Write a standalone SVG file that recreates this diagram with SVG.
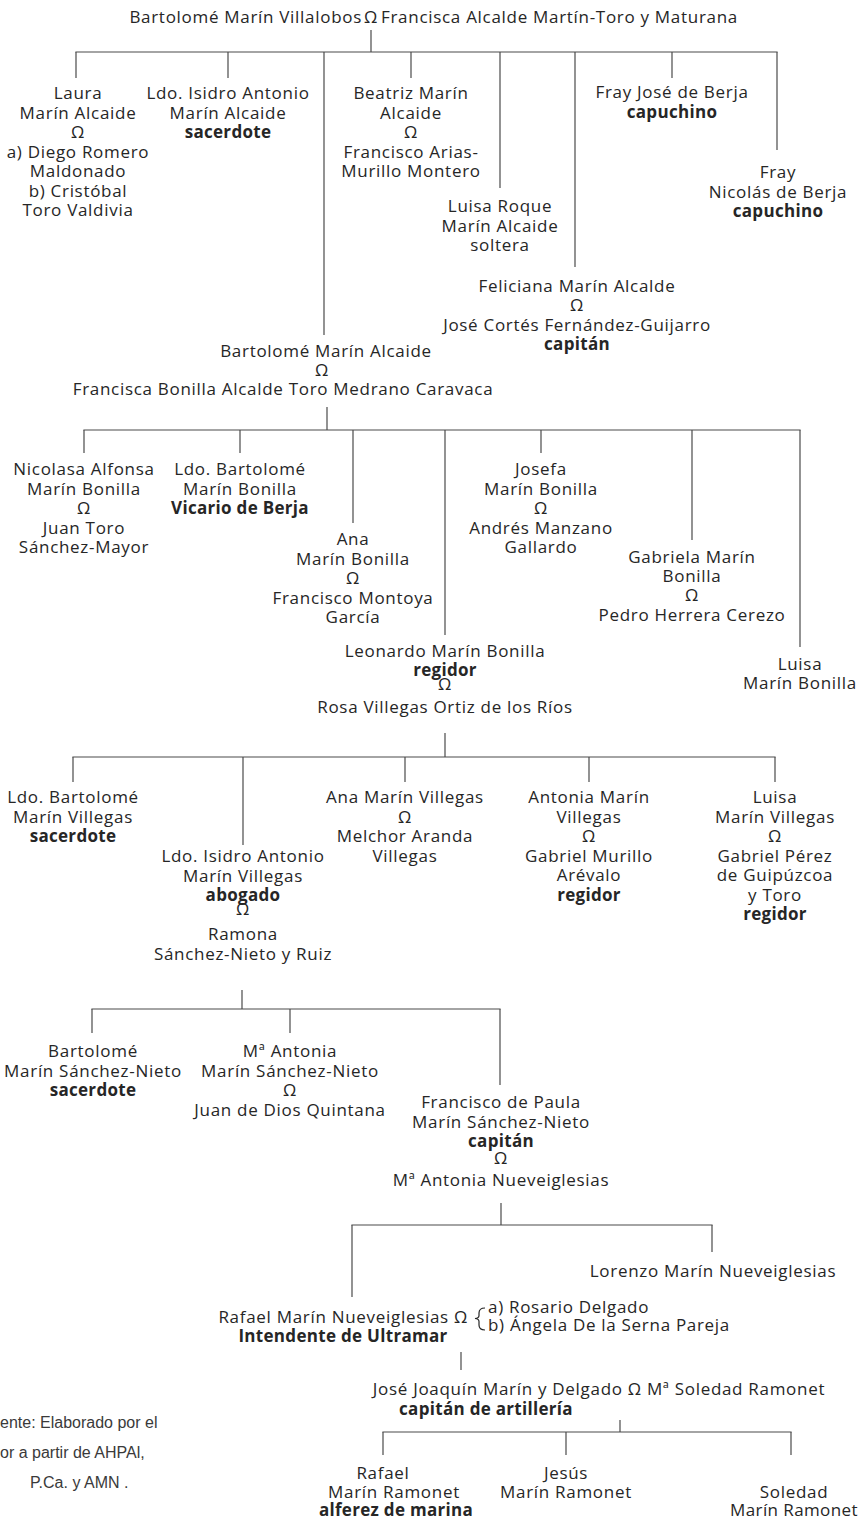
<svg xmlns="http://www.w3.org/2000/svg" width="861" height="1520" viewBox="0 0 861 1520">
<style>
text{font-family:"Open Sans","Liberation Sans",sans-serif;font-size:17px;letter-spacing:0.7px;fill:#262626;text-anchor:middle}
.b{font-weight:700;letter-spacing:0.3px}
.s{text-anchor:start}
.e{text-anchor:end}
.src{font-family:"Liberation Sans","Noto Sans",sans-serif;font-size:16px;letter-spacing:0;fill:#3a3a3a;text-anchor:start}
.ln line{stroke:#4a4a4a;stroke-width:1.2;fill:none}
</style>
<rect width="861" height="1520" fill="#fff"/>
<g class="ln" id="connectors">
<line x1="371" y1="30" x2="371" y2="52"/>
<line x1="75.4" y1="52" x2="777.6" y2="52"/>
<line x1="76" y1="52" x2="76" y2="78"/>
<line x1="228" y1="52" x2="228" y2="78"/>
<line x1="324" y1="52" x2="324" y2="335"/>
<line x1="411" y1="52" x2="411" y2="78"/>
<line x1="500" y1="52" x2="500" y2="188"/>
<line x1="575" y1="52" x2="575" y2="267"/>
<line x1="672" y1="52" x2="672" y2="78"/>
<line x1="777" y1="52" x2="777" y2="150"/>
<line x1="327" y1="407" x2="327" y2="430"/>
<line x1="83.4" y1="430" x2="800.6" y2="430"/>
<line x1="84" y1="430" x2="84" y2="453"/>
<line x1="240" y1="430" x2="240" y2="453"/>
<line x1="353" y1="430" x2="353" y2="523"/>
<line x1="445" y1="430" x2="445" y2="635"/>
<line x1="541" y1="430" x2="541" y2="453"/>
<line x1="692" y1="430" x2="692" y2="540"/>
<line x1="800" y1="430" x2="800" y2="647"/>
<line x1="445" y1="733" x2="445" y2="757"/>
<line x1="72.4" y1="757" x2="775.6" y2="757"/>
<line x1="73" y1="757" x2="73" y2="782"/>
<line x1="243" y1="757" x2="243" y2="845"/>
<line x1="405" y1="757" x2="405" y2="782"/>
<line x1="589" y1="757" x2="589" y2="782"/>
<line x1="775" y1="757" x2="775" y2="782"/>
<line x1="242" y1="990" x2="242" y2="1009"/>
<line x1="91.4" y1="1009" x2="500.6" y2="1009"/>
<line x1="92" y1="1009" x2="92" y2="1033"/>
<line x1="290" y1="1009" x2="290" y2="1033"/>
<line x1="500" y1="1009" x2="500" y2="1085"/>
<line x1="501" y1="1203" x2="501" y2="1225"/>
<line x1="351.4" y1="1225" x2="712.6" y2="1225"/>
<line x1="352" y1="1225" x2="352" y2="1297"/>
<line x1="712" y1="1225" x2="712" y2="1252"/>
<line x1="461" y1="1352" x2="461" y2="1370"/>
<line x1="620" y1="1420" x2="620" y2="1432"/>
<line x1="382.4" y1="1432" x2="791.6" y2="1432"/>
<line x1="383" y1="1432" x2="383" y2="1455"/>
<line x1="566" y1="1432" x2="566" y2="1455"/>
<line x1="791" y1="1432" x2="791" y2="1455"/>
</g>
<g id="n-root">
<text class="e" x="362" y="23">Bartolomé Marín Villalobos</text>
<text x="371" y="23">Ω</text>
<text class="s" x="381" y="23">Francisca Alcalde Martín-Toro y Maturana</text>
</g>
<g id="n-laura">
<text x="78" y="99">Laura</text>
<text x="78" y="118.5">Marín Alcaide</text>
<text x="78" y="138">Ω</text>
<text x="78" y="157.5">a) Diego Romero</text>
<text x="78" y="177">Maldonado</text>
<text x="78" y="196.5">b) Cristóbal</text>
<text x="78" y="216">Toro Valdivia</text>
</g>
<g id="n-isidro">
<text x="228" y="99">Ldo. Isidro Antonio</text>
<text x="228" y="118.5">Marín Alcaide</text>
<text class="b" x="228" y="138">sacerdote</text>
</g>
<g id="n-beatriz">
<text x="411" y="99">Beatriz Marín</text>
<text x="411" y="118.5">Alcaide</text>
<text x="411" y="138">Ω</text>
<text x="411" y="157.5">Francisco Arias-</text>
<text x="411" y="177">Murillo Montero</text>
</g>
<g id="n-luisa-roque">
<text x="500" y="212">Luisa Roque</text>
<text x="500" y="231.5">Marín Alcaide</text>
<text x="500" y="251">soltera</text>
</g>
<g id="n-feliciana">
<text x="577" y="292">Feliciana Marín Alcalde</text>
<text x="577" y="311">Ω</text>
<text x="577" y="330.5">José Cortés Fernández-Guijarro</text>
<text class="b" x="577" y="350">capitán</text>
</g>
<g id="n-fray-jose">
<text x="672" y="98">Fray José de Berja</text>
<text class="b" x="672" y="118">capuchino</text>
</g>
<g id="n-fray-nicolas">
<text x="778" y="178">Fray</text>
<text x="778" y="198">Nicolás de Berja</text>
<text class="b" x="778" y="217">capuchino</text>
</g>
<g id="n-bartolome-alcaide">
<text x="326" y="357">Bartolomé Marín Alcaide</text>
<text x="322" y="376">Ω</text>
<text x="283" y="395">Francisca Bonilla Alcalde Toro Medrano Caravaca</text>
</g>
<g id="n-nicolasa">
<text x="84" y="475">Nicolasa Alfonsa</text>
<text x="84" y="494.5">Marín Bonilla</text>
<text x="84" y="514">Ω</text>
<text x="84" y="533.5">Juan Toro</text>
<text x="84" y="553">Sánchez-Mayor</text>
</g>
<g id="n-bartolome-bonilla">
<text x="240" y="475">Ldo. Bartolomé</text>
<text x="240" y="494.5">Marín Bonilla</text>
<text class="b" x="240" y="514">Vicario de Berja</text>
</g>
<g id="n-ana-bonilla">
<text x="353" y="545">Ana</text>
<text x="353" y="564.5">Marín Bonilla</text>
<text x="353" y="584">Ω</text>
<text x="353" y="603.5">Francisco Montoya</text>
<text x="353" y="623">García</text>
</g>
<g id="n-josefa">
<text x="541" y="475">Josefa</text>
<text x="541" y="494.5">Marín Bonilla</text>
<text x="541" y="514">Ω</text>
<text x="541" y="533.5">Andrés Manzano</text>
<text x="541" y="553">Gallardo</text>
</g>
<g id="n-gabriela">
<text x="692" y="563">Gabriela Marín</text>
<text x="692" y="582">Bonilla</text>
<text x="692" y="601">Ω</text>
<text x="692" y="620.5">Pedro Herrera Cerezo</text>
</g>
<g id="n-luisa-bonilla">
<text x="800" y="670">Luisa</text>
<text x="800" y="688.5">Marín Bonilla</text>
</g>
<g id="n-leonardo">
<text x="445" y="657">Leonardo Marín Bonilla</text>
<text class="b" x="445" y="676">regidor</text>
<text x="445" y="690">Ω</text>
<text x="445" y="713">Rosa Villegas Ortiz de los Ríos</text>
</g>
<g id="n-bartolome-villegas">
<text x="73" y="803">Ldo. Bartolomé</text>
<text x="73" y="822.5">Marín Villegas</text>
<text class="b" x="73" y="842">sacerdote</text>
</g>
<g id="n-isidro-villegas">
<text x="243" y="862">Ldo. Isidro Antonio</text>
<text x="243" y="881.5">Marín Villegas</text>
<text class="b" x="243" y="901">abogado</text>
<text x="243" y="915">Ω</text>
<text x="243" y="940">Ramona</text>
<text x="243" y="959.5">Sánchez-Nieto y Ruiz</text>
</g>
<g id="n-ana-villegas">
<text x="405" y="803">Ana Marín Villegas</text>
<text x="405" y="822.5">Ω</text>
<text x="405" y="842">Melchor Aranda</text>
<text x="405" y="861.5">Villegas</text>
</g>
<g id="n-antonia-villegas">
<text x="589" y="803">Antonia Marín</text>
<text x="589" y="822.5">Villegas</text>
<text x="589" y="842">Ω</text>
<text x="589" y="861.5">Gabriel Murillo</text>
<text x="589" y="881">Arévalo</text>
<text class="b" x="589" y="900.5">regidor</text>
</g>
<g id="n-luisa-villegas">
<text x="775" y="803">Luisa</text>
<text x="775" y="822.5">Marín Villegas</text>
<text x="775" y="842">Ω</text>
<text x="775" y="861.5">Gabriel Pérez</text>
<text x="775" y="881">de Guipúzcoa</text>
<text x="775" y="900.5">y Toro</text>
<text class="b" x="775" y="920">regidor</text>
</g>
<g id="n-bartolome-sn">
<text x="93" y="1057">Bartolomé</text>
<text x="93" y="1076.5">Marín Sánchez-Nieto</text>
<text class="b" x="93" y="1096">sacerdote</text>
</g>
<g id="n-ma-antonia-sn">
<text x="290" y="1057">Mª Antonia</text>
<text x="290" y="1076.5">Marín Sánchez-Nieto</text>
<text x="290" y="1096">Ω</text>
<text x="290" y="1115.5">Juan de Dios Quintana</text>
</g>
<g id="n-francisco-paula">
<text x="501" y="1108">Francisco de Paula</text>
<text x="501" y="1127.5">Marín Sánchez-Nieto</text>
<text class="b" x="501" y="1147">capitán</text>
<text x="501" y="1164">Ω</text>
<text x="501" y="1186">Mª Antonia Nueveiglesias</text>
</g>
<g id="n-lorenzo">
<text x="713" y="1277">Lorenzo Marín Nueveiglesias</text>
</g>
<g id="n-rafael-nueveiglesias">
<text class="e" x="468" y="1323">Rafael Marín Nueveiglesias Ω</text>
<path d="M485,1308 C480,1308 479,1310 479,1313 L479,1315.5 C479,1317.5 477.5,1318.3 475,1318.5 C477.5,1318.7 479,1319.5 479,1321.5 L479,1325 C479,1328 480,1330 485,1330" stroke="#262626" stroke-width="1.2" fill="none"/>
<text class="s" x="488" y="1313">a) Rosario Delgado</text>
<text class="s" x="488" y="1331">b) Ángela De la Serna Pareja</text>
<text class="b" x="343" y="1342">Intendente de Ultramar</text>
</g>
<g id="n-jose-joaquin">
<text x="599" y="1395">José Joaquín Marín y Delgado Ω Mª Soledad Ramonet</text>
<text class="b" x="486" y="1415">capitán de artillería</text>
</g>
<g id="n-rafael-ramonet">
<text x="383" y="1479">Rafael</text>
<text x="394" y="1498">Marín Ramonet</text>
<text class="b" x="396" y="1516">alferez de marina</text>
</g>
<g id="n-jesus">
<text x="566" y="1479">Jesús</text>
<text x="566" y="1498">Marín Ramonet</text>
</g>
<g id="n-soledad">
<text x="794" y="1498">Soledad</text>
<text x="794" y="1516" style="letter-spacing:0.4px">Marín Ramonet</text>
</g>
<g id="source">
<text class="src" x="0" y="1428">ente: Elaborado por el</text>
<text class="src" x="0" y="1458">or a partir de AHPAl,</text>
<text class="src" x="30" y="1488">P.Ca. y AMN .</text>
</g>
</svg>
